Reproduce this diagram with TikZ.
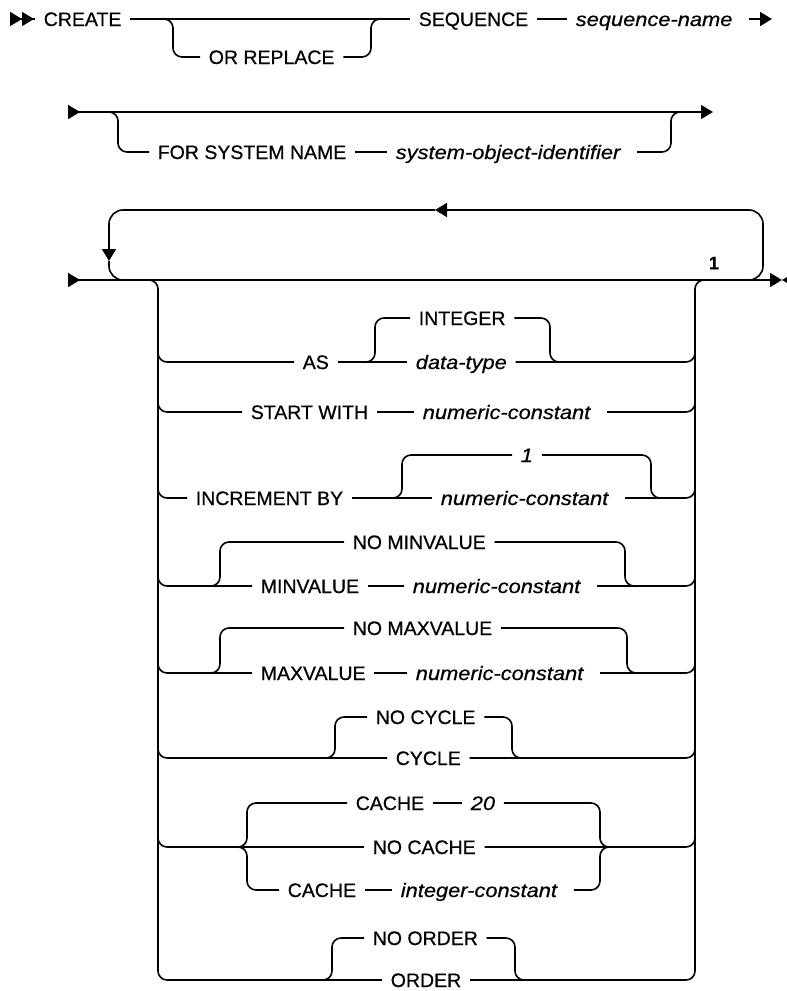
\documentclass[tikz,border=0pt]{standalone}
\usepackage{fontspec}
\setmainfont{Liberation Sans}[FakeBold=0.6]
\newfontfamily\varfont[FakeStretch=1.12, FakeBold=0.6]{Liberation Sans}
\usetikzlibrary{arrows.meta}

\tikzset{
  rr/.tip={Triangle[length=12pt,width=14pt]},
  kw/.style={anchor=west, inner xsep=8pt, inner ysep=0pt, text height=14pt,
    text depth=0pt, font=\fontsize{19.5}{22}\selectfont},
  var/.style={kw, font=\varfont\itshape\fontsize{19.5}{22}\selectfont},
  track/.style={rounded corners=9pt},
}

\begin{document}
\begin{tikzpicture}[x=1pt, y=-1pt, line width=1.6pt]
  \useasboundingbox (0,0) rectangle (787,991);

  % first line: CREATE [OR REPLACE] SEQUENCE sequence-name
  \node[kw] (create) at (35,19) {CREATE};
  \node[kw] (orrep) at (200,57) {OR REPLACE};
  \node[kw] (seq) at (410,19) {SEQUENCE};
  \node[var] (seqname) at (567,19) {sequence-name};
  \coordinate (r1start) at (10,19);
  \coordinate (r1end) at (772,19);
  \coordinate (orL) at (173,19);
  \coordinate (orR) at (371,19);
  \draw[{rr[reversed]rr[reversed]}-] (r1start) -- (create.west);
  \draw (create.east) -- (seq.west);
  \draw[track] ([xshift=-10pt]orL) -- (orL) |- (orrep.west);
  \draw[track] (orrep.east) -| (orR) -- ([xshift=10pt]orR);
  \draw (seq.east) -- (seqname.west);
  \draw[-{rr}] ([xshift=8pt]seqname.east) -- (r1end);

  % second line: optional system name
  \node[kw] (fsn) at (149,152) {FOR SYSTEM NAME};
  \node[var] (soi) at (387,152) {system-object-identifier};
  \coordinate (r2start) at (68,112);
  \coordinate (r2end) at (713,112);
  \coordinate (r2L) at (118,112);
  \coordinate (r2R) at (671,112);
  \draw[{rr[reversed]}-{rr}] (r2start) -- (r2end);
  \draw[track] ([xshift=-10pt]r2L) -- (r2L) |- (fsn.west);
  \draw (fsn.east) -- (soi.west);
  \draw[track] ([xshift=8pt]soi.east) -| (r2R) -- ([xshift=10pt]r2R);

  % third line: the repeated options
  \coordinate (r3start) at (68,280);
  \coordinate (r3end) at (782,280);
  \coordinate (fin) at (800,280);
  \draw[{rr[reversed]}-{rr}] (r3start) -- (r3end);
  \draw[-{rr}] (fin) -- (r3end);
  \node[font=\bfseries\fontsize{18}{20}\selectfont, inner sep=0pt] (note) at (714,263) {1};

  % the loop back over the options
  \coordinate (lpL) at (109,210);
  \coordinate (lpR) at (763,210);
  \coordinate (lpLb) at (109,280);
  \coordinate (lpRb) at (763,280);
  \coordinate (arrtop) at (435,210);
  \coordinate (arrleft) at (109,261);
  \draw[rounded corners=14pt, -{rr}] ([xshift=-20pt]lpRb) -- (lpRb) -- (lpR) -- (arrtop);
  \draw[rounded corners=14pt, -{rr}] (arrtop) -- (lpL) -- (arrleft);
  \draw[rounded corners=14pt] (arrleft) -- (lpLb) -- ([xshift=20pt]lpLb);

  % the stack rails
  \node[kw] (ord) at (382,980) {ORDER};
  \coordinate (stL) at (158,280);
  \coordinate (stR) at (695,280);
  \coordinate (stL2) at (158,300);
  \coordinate (stR2) at (695,300);
  \draw[track] ([xshift=-10pt]stL) -- (stL) |- (ord.west);
  \draw[track] (ord.east) -| (stR) -- ([xshift=10pt]stR);

  % AS
  \node[kw] (int) at (410,318) {INTEGER};
  \node[kw] (as) at (294,362) {AS};
  \node[var] (dtype) at (407,362) {data-type};
  \coordinate (asL) at (375,362);
  \coordinate (asR) at (550,362);
  \draw[track] (stL2) |- (as.west);
  \draw (as.east) -- (dtype.west);
  \draw[track] (dtype.east) -| (stR2);
  \draw[track] ([xshift=-10pt]asL) -- (asL) |- (int.west);
  \draw[track] (int.east) -| (asR) -- ([xshift=10pt]asR);

  % START WITH
  \node[kw] (sw) at (242,412) {START WITH};
  \node[var] (numc1) at (414,412) {numeric-constant};
  \draw[track] (stL2) |- (sw.west);
  \draw (sw.east) -- (numc1.west);
  \draw[track] ([xshift=8pt]numc1.east) -| (stR2);

  % INCREMENT BY
  \node[var] (one) at (512,455) {1};
  \node[kw] (inc) at (187,498) {INCREMENT BY};
  \node[var] (numc2) at (432,498) {numeric-constant};
  \coordinate (incL) at (402,498);
  \coordinate (incR) at (651,498);
  \draw[track] (stL2) |- (inc.west);
  \draw (inc.east) -- (numc2.west);
  \draw[track] ([xshift=8pt]numc2.east) -| (stR2);
  \draw[track] ([xshift=-10pt]incL) -- (incL) |- (one.west);
  \draw[track] (one.east) -| (incR) -- ([xshift=10pt]incR);

  % MINVALUE
  \node[kw] (nomin) at (344,542) {NO MINVALUE};
  \node[kw] (min) at (252,586) {MINVALUE};
  \node[var] (numc3) at (404,586) {numeric-constant};
  \coordinate (minL) at (220,586);
  \coordinate (minR) at (625,586);
  \draw[track] (stL2) |- (min.west);
  \draw (min.east) -- (numc3.west);
  \draw[track] ([xshift=8pt]numc3.east) -| (stR2);
  \draw[track] ([xshift=-10pt]minL) -- (minL) |- (nomin.west);
  \draw[track] (nomin.east) -| (minR) -- ([xshift=10pt]minR);

  % MAXVALUE
  \node[kw] (nomax) at (344,628) {NO MAXVALUE};
  \node[kw] (max) at (252,673) {MAXVALUE};
  \node[var] (numc4) at (407,673) {numeric-constant};
  \coordinate (maxL) at (220,673);
  \coordinate (maxR) at (627,673);
  \draw[track] (stL2) |- (max.west);
  \draw (max.east) -- (numc4.west);
  \draw[track] ([xshift=8pt]numc4.east) -| (stR2);
  \draw[track] ([xshift=-10pt]maxL) -- (maxL) |- (nomax.west);
  \draw[track] (nomax.east) -| (maxR) -- ([xshift=10pt]maxR);

  % CYCLE
  \node[kw] (nocyc) at (367,717) {NO CYCLE};
  \node[kw] (cyc) at (387,758) {CYCLE};
  \coordinate (cycL) at (335,758);
  \coordinate (cycR) at (512,758);
  \draw[track] (stL2) |- (cyc.west);
  \draw[track] (cyc.east) -| (stR2);
  \draw[track] ([xshift=-10pt]cycL) -- (cycL) |- (nocyc.west);
  \draw[track] (nocyc.east) -| (cycR) -- ([xshift=10pt]cycR);

  % CACHE
  \node[kw] (cache1) at (347,803) {CACHE};
  \node[var] (twenty) at (462,803) {20};
  \node[kw] (nocache) at (364,847) {NO CACHE};
  \node[kw] (cache2) at (279,890) {CACHE};
  \node[var] (intc) at (392,890) {integer-constant};
  \coordinate (cacL) at (247,847);
  \coordinate (cacR) at (600,847);
  \draw[track] (stL2) |- (nocache.west);
  \draw[track] (nocache.east) -| (stR2);
  \draw[track] ([xshift=-10pt]cacL) -- (cacL) |- (cache1.west);
  \draw (cache1.east) -- (twenty.west);
  \draw[track] (twenty.east) -| (cacR) -- ([xshift=10pt]cacR);
  \draw[track] ([xshift=-10pt]cacL) -- (cacL) |- (cache2.west);
  \draw (cache2.east) -- (intc.west);
  \draw[track] ([xshift=8pt]intc.east) -| (cacR) -- ([xshift=10pt]cacR);

  % ORDER
  \node[kw] (noord) at (364,938) {NO ORDER};
  \coordinate (ordL) at (332,980);
  \coordinate (ordR) at (515,980);
  \draw[track] ([xshift=-10pt]ordL) -- (ordL) |- (noord.west);
  \draw[track] (noord.east) -| (ordR) -- ([xshift=10pt]ordR);

\end{tikzpicture}
\end{document}
